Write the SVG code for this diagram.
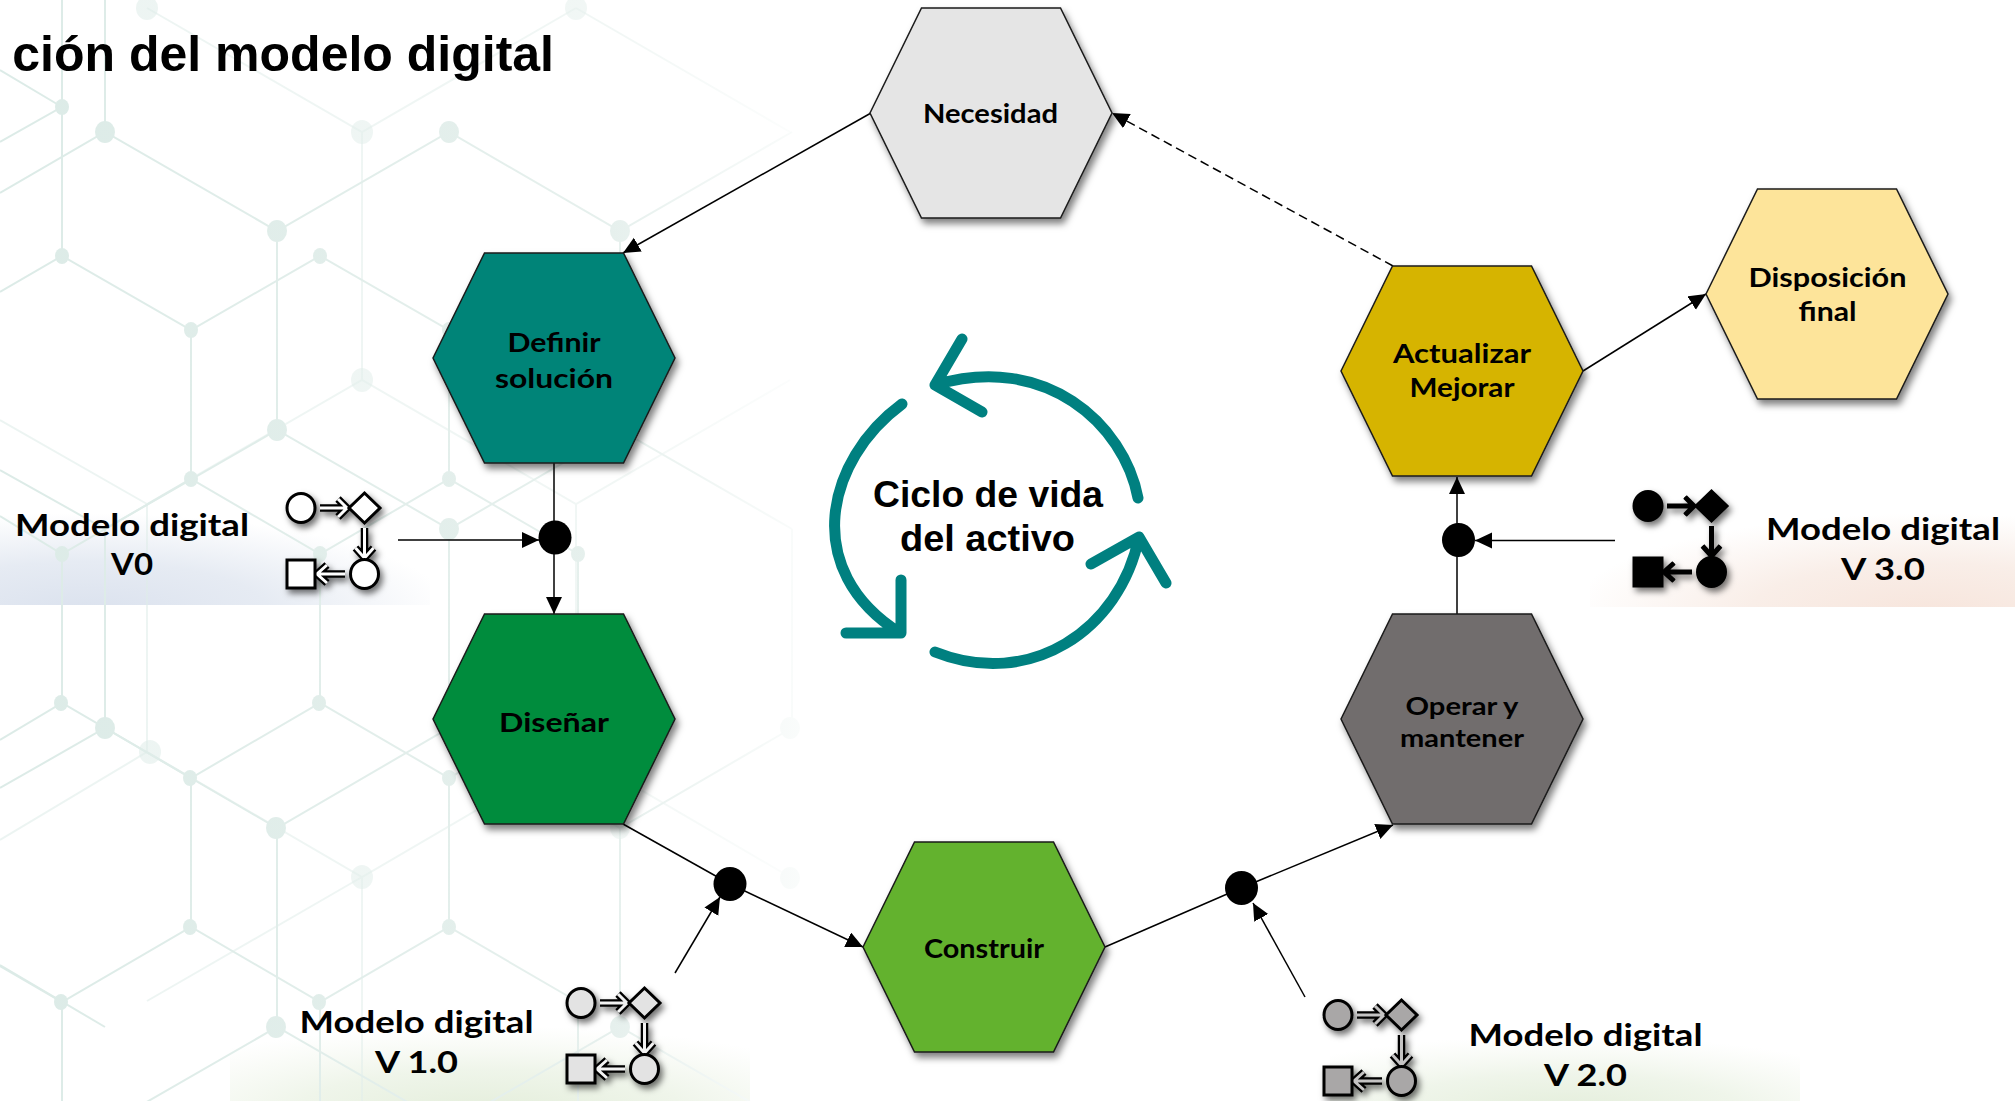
<svg xmlns="http://www.w3.org/2000/svg" xmlns:xlink="http://www.w3.org/1999/xlink" width="2015" height="1101" viewBox="0 0 2015 1101">
<style>
.hex{stroke:#1a1a1a;stroke-width:1.5;filter:url(#sh)}
.lbl{font-family:Lato,"Noto Sans",sans-serif;font-weight:700;fill:#000;text-anchor:middle}
.h{font-size:27px}
.m{font-size:31px}
.c{font-family:"Liberation Sans",Arial,sans-serif;font-weight:700;fill:#000;text-anchor:middle;font-size:37px}
.t{font-family:"Liberation Sans",Arial,sans-serif;font-weight:700;fill:#000;text-anchor:end;font-size:50px}
.con{fill:none;stroke:#000;stroke-width:1.5}
.arr{marker-end:url(#ah)}
.dot{fill:#000}
.g1{fill:none;stroke:url(#gridfade);stroke-width:2}
.g2{fill:none;stroke:url(#gridfade);stroke-width:2;opacity:.55}
.gn{fill:url(#gridfade)}
.cyc{fill:none;stroke:#008080;stroke-width:11;stroke-linecap:round;stroke-linejoin:round}
.ishape{stroke:#000;stroke-width:3}
.aout{fill:none;stroke:#000;stroke-width:var(--aw,7.5)}
.ain{fill:none;stroke:currentColor;stroke-width:3}
</style>
<defs>
<filter id="sh" x="-15%" y="-15%" width="130%" height="130%"><feDropShadow dx="3" dy="5" stdDeviation="3.5" flood-color="#000" flood-opacity=".5"/></filter>
<filter id="ish" x="-15%" y="-15%" width="135%" height="135%"><feDropShadow dx="3" dy="4" stdDeviation="3" flood-color="#000" flood-opacity=".55"/></filter>
<marker id="ah" markerUnits="userSpaceOnUse" markerWidth="20" markerHeight="18" refX="17" refY="8" orient="auto"><path d="M0,0L17,8L0,16Z" fill="#000"/></marker>
<linearGradient id="gridfade" gradientUnits="userSpaceOnUse" x1="0" y1="0" x2="850" y2="0"><stop offset="0" stop-color="#dcebe7"/><stop offset=".72" stop-color="#e6f0ed"/><stop offset="1" stop-color="#fff"/></linearGradient>
<radialGradient id="b0" cx=".2" cy="1.05" r=".85"><stop offset="0" stop-color="#dbe2ee"/><stop offset=".5" stop-color="#e6ebf3"/><stop offset="1" stop-color="#e6ebf3" stop-opacity="0"/></radialGradient>
<radialGradient id="b3" cx=".8" cy="1.05" r=".85"><stop offset="0" stop-color="#f7e5dc"/><stop offset=".5" stop-color="#f9eee8"/><stop offset="1" stop-color="#f9eee8" stop-opacity="0"/></radialGradient>
<radialGradient id="bg" cx=".5" cy="1.1" r=".75"><stop offset="0" stop-color="#e4eedb"/><stop offset=".5" stop-color="#eff5ea"/><stop offset="1" stop-color="#f3f7ee" stop-opacity="0"/></radialGradient>
<g id="icon">
<g class="ishape" filter="url(#ish)">
<path class="aout" d="M320,508H346M338,499L347,508L338,517M364.500,528V557M355.500,548L364.500,558L373.500,548M345,574H318M327,565L317,574L327,583"/>
<path class="ain" d="M320,508H346M338,499L347,508L338,517M364.500,528V557M355.500,548L364.500,558L373.500,548M345,574H318M327,565L317,574L327,583"/>
<ellipse cx="301" cy="508" rx="14" ry="14.500"/>
<path d="M364.500,493L380,508L364.500,523L349,508Z"/>
<ellipse cx="364.500" cy="574" rx="14" ry="14.500"/>
<rect x="287" y="560" width="28" height="28"/>
</g>
</g>
<polygon id="hexa" points="0,105 51.500,0 190.500,0 242,105 190.500,210 51.500,210"/>
</defs>
<rect width="2015" height="1101" fill="#fff"/>
<g id="background">
<rect x="0" y="490" width="430" height="115" fill="url(#b0)"/>
<rect x="1590" y="490" width="425" height="117" fill="url(#b3)"/>
<rect x="230" y="985" width="520" height="116" fill="url(#bg)"/>
<rect x="1330" y="1000" width="470" height="101" fill="url(#bg)"/>
<path class="g1" d="M0,142L62,107V256M0,292L62,256L191,330L320,256L449,330L578,256M191,330V479M0,516L62,554L191,479L320,554L449,479L578,554M62,554V703M320,554V703M578,554V703M0,740L62,703L191,778L320,703L449,778L578,703M191,778V927M449,330V479M449,778V927M0,966L62,1002L191,927L320,1002L449,927L578,1002M62,1002V1101M320,1002V1101M578,1002V1101M62,0V107M62,107L0,70"/>
<path class="g1" d="M105,0V132M0,193L105,132L277,231L449,132L620,231L792,132M277,231V430M620,231V430M0,470L105,529L277,430L449,529L620,430L792,529M105,529V728M449,529V728M792,529V728M0,788L105,728L277,828L449,728L620,828L792,728M277,828V1027M620,828V1027M0,965L105,1027M105,1126L277,1027L449,1126M449,1126L620,1027L792,1126"/>
<path class="g2" d="M147,8L362,132L576,8M362,132V380M147,504L362,380L576,504L790,380M147,504V752M576,504V752M0,840L147,752L362,877L576,752L790,877M362,877V1101M0,420L147,504M576,8L790,132M362,877L147,1001"/>
<g class="gn">
<ellipse cx="62" cy="107" rx="7" ry="8"/><ellipse cx="62" cy="256" rx="7" ry="8"/><ellipse cx="191" cy="330" rx="7" ry="8"/><ellipse cx="320" cy="256" rx="7" ry="8"/><ellipse cx="449" cy="330" rx="7" ry="8"/><ellipse cx="191" cy="479" rx="7" ry="8"/><ellipse cx="449" cy="479" rx="7" ry="8"/><ellipse cx="62" cy="554" rx="7" ry="8"/><ellipse cx="320" cy="554" rx="7" ry="8"/><ellipse cx="578" cy="554" rx="7" ry="8"/><ellipse cx="61" cy="703" rx="7" ry="8"/><ellipse cx="319" cy="703" rx="7" ry="8"/><ellipse cx="190" cy="778" rx="7" ry="8"/><ellipse cx="449" cy="778" rx="7" ry="8"/><ellipse cx="190" cy="927" rx="7" ry="8"/><ellipse cx="449" cy="927" rx="7" ry="8"/><ellipse cx="61" cy="1002" rx="7" ry="8"/><ellipse cx="319" cy="1002" rx="7" ry="8"/>
<ellipse cx="105" cy="132" rx="10" ry="11"/><ellipse cx="277" cy="231" rx="10" ry="11"/><ellipse cx="449" cy="132" rx="10" ry="11"/><ellipse cx="620" cy="231" rx="10" ry="11"/><ellipse cx="277" cy="430" rx="10" ry="11"/><ellipse cx="449" cy="529" rx="10" ry="11"/><ellipse cx="105" cy="728" rx="10" ry="11"/><ellipse cx="276" cy="828" rx="10" ry="11"/><ellipse cx="276" cy="1027" rx="10" ry="11"/><ellipse cx="620" cy="1027" rx="10" ry="11"/><ellipse cx="790" cy="728" rx="10" ry="11"/><ellipse cx="790" cy="878" rx="10" ry="11"/>
<g opacity=".55"><ellipse cx="147" cy="8" rx="11" ry="12"/><ellipse cx="362" cy="132" rx="11" ry="12"/><ellipse cx="576" cy="8" rx="11" ry="12"/><ellipse cx="362" cy="380" rx="11" ry="12"/><ellipse cx="150" cy="752" rx="11" ry="12"/><ellipse cx="362" cy="877" rx="11" ry="12"/><ellipse cx="620" cy="828" rx="10" ry="11"/></g>
</g>
</g>
<text id="title" class="t" x="554" y="71">ción del modelo digital</text>
<g id="connectors">
<path class="con arr" d="M871,113L623,253"/>
<path class="con arr" d="M554,463V614"/>
<path class="con arr" d="M398,540H539"/>
<path class="con" d="M623,824L730,884"/>
<path class="con arr" d="M730,884L863,947"/>
<path class="con arr" d="M675,973L720,897"/>
<path class="con" d="M1105,947L1241,888"/>
<path class="con arr" d="M1241,888L1393,825"/>
<path class="con arr" d="M1305,997L1253,903"/>
<path class="con" d="M1457,614V540"/>
<path class="con arr" d="M1457,540V477"/>
<path class="con arr" d="M1615,540.500H1475"/>
<path class="con arr" d="M1393,266L1112,113" stroke-dasharray="9 5"/>
<path class="con arr" d="M1583,371L1706,294"/>
</g>
<g id="junction-v0"><ellipse class="dot" cx="555" cy="537.500" rx="16.500" ry="17"/></g>
<g id="junction-v1"><ellipse class="dot" cx="730" cy="884" rx="16.500" ry="17"/></g>
<g id="junction-v2"><ellipse class="dot" cx="1241.500" cy="888" rx="16.500" ry="17"/></g>
<g id="junction-v3"><ellipse class="dot" cx="1458.500" cy="540" rx="16.500" ry="17"/></g>
<g id="necesidad"><use href="#hexa" x="870" y="8" class="hex" fill="#e5e5e5"/><text class="lbl h" x="990.500" y="123" textLength="135" lengthAdjust="spacingAndGlyphs">Necesidad</text></g>
<g id="definir"><use href="#hexa" x="433" y="253" class="hex" fill="#008478"/><text class="lbl h" x="554" y="352" textLength="93" lengthAdjust="spacingAndGlyphs">Definir</text><text class="lbl h" x="554" y="388" textLength="118" lengthAdjust="spacingAndGlyphs">solución</text></g>
<g id="disenar"><use href="#hexa" x="433" y="614" class="hex" fill="#058c3e"/><text class="lbl h" x="554" y="732" textLength="110" lengthAdjust="spacingAndGlyphs">Diseñar</text></g>
<g id="construir"><use href="#hexa" x="863" y="842" class="hex" fill="#63b22f"/><text class="lbl h" x="984" y="958" textLength="120" lengthAdjust="spacingAndGlyphs">Construir</text></g>
<g id="operar"><use href="#hexa" x="1341" y="614" class="hex" fill="#716d6d"/><text class="lbl" font-size="25" x="1462" y="715" textLength="113" lengthAdjust="spacingAndGlyphs">Operar y</text><text class="lbl" font-size="25" x="1462" y="747" textLength="124" lengthAdjust="spacingAndGlyphs">mantener</text></g>
<g id="actualizar"><use href="#hexa" x="1341" y="266" class="hex" fill="#d6b404"/><text class="lbl h" x="1462" y="363" textLength="138" lengthAdjust="spacingAndGlyphs">Actualizar</text><text class="lbl h" x="1462" y="397" textLength="105" lengthAdjust="spacingAndGlyphs">Mejorar</text></g>
<g id="disposicion"><use href="#hexa" x="1706" y="189" class="hex" fill="#fde49a"/><text class="lbl h" x="1827.500" y="287" textLength="158" lengthAdjust="spacingAndGlyphs">Disposición</text><text class="lbl h" x="1827.500" y="321" textLength="58" lengthAdjust="spacingAndGlyphs">final</text></g>
<g id="ciclo">
<path class="cyc" d="M1138,498C1124,424 1045,352 935,385M962,339L935,385L982,412"/>
<path class="cyc" d="M902,404C826,460 800,570 900,633M901,580V633H846"/>
<path class="cyc" d="M935,652C1030,690 1120,630 1139,537M1091,564L1139,537L1166,583"/>
<text class="c" x="988" y="507" textLength="230" lengthAdjust="spacingAndGlyphs">Ciclo de vida</text>
<text class="c" x="987.500" y="551" textLength="175" lengthAdjust="spacingAndGlyphs">del activo</text>
</g>
<g id="modelo-v0"><use href="#icon" fill="#fff" color="#fff"/><text class="lbl m" x="132" y="536" textLength="234" lengthAdjust="spacingAndGlyphs">Modelo digital</text><text class="lbl m" x="132" y="575" textLength="42" lengthAdjust="spacingAndGlyphs">V0</text></g>
<g id="modelo-v1"><use href="#icon" x="280" y="495" fill="#e3e3e3" color="#f2f2f2"/><text class="lbl m" x="416.500" y="1033" textLength="234" lengthAdjust="spacingAndGlyphs">Modelo digital</text><text class="lbl m" x="416.500" y="1073" textLength="83" lengthAdjust="spacingAndGlyphs">V 1.0</text></g>
<g id="modelo-v2"><use href="#icon" x="1037" y="507" fill="#a9a7a7" color="#c4c3c3"/><text class="lbl m" x="1585.500" y="1046" textLength="234" lengthAdjust="spacingAndGlyphs">Modelo digital</text><text class="lbl m" x="1585.500" y="1086" textLength="83" lengthAdjust="spacingAndGlyphs">V 2.0</text></g>
<g id="modelo-v3"><use href="#icon" x="1347" y="-2" fill="#000" color="#000" style="--aw:5"/><text class="lbl m" x="1883" y="540" textLength="234" lengthAdjust="spacingAndGlyphs">Modelo digital</text><text class="lbl m" x="1883" y="580" textLength="84" lengthAdjust="spacingAndGlyphs">V 3.0</text></g>
</svg>
